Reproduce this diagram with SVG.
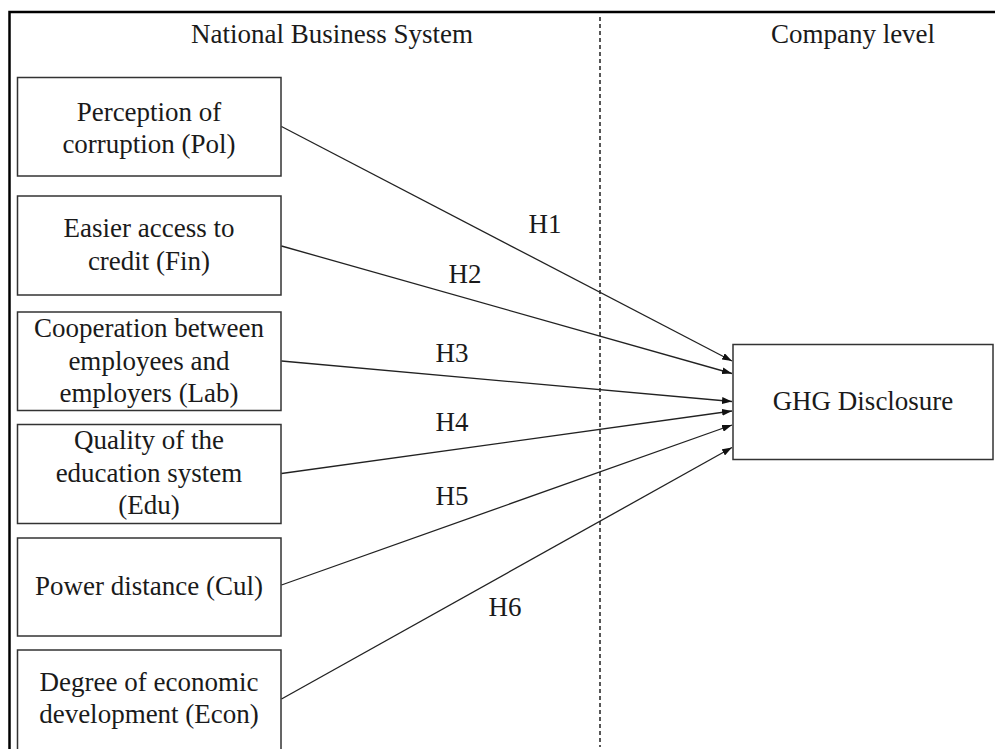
<svg xmlns="http://www.w3.org/2000/svg" width="995" height="749" viewBox="0 0 995 749">
<style>
  text { font-family: "Liberation Serif", "Times New Roman", serif; font-size: 27px; fill: #1a1a1a; text-anchor: middle; }
  .box { fill: #ffffff; stroke: #333333; stroke-width: 1.5; }
  .conn { stroke: #222222; stroke-width: 1.3; fill: none; marker-end: url(#arrow); }
  .frame { fill: none; stroke: #000000; stroke-width: 2.5; }
  .divider { stroke: #111111; stroke-width: 1.4; stroke-dasharray: 4 3; }
</style>
<defs>
  <marker id="arrow" viewBox="0 0 10 7" refX="10" refY="3.5" markerWidth="10" markerHeight="7" markerUnits="userSpaceOnUse" orient="auto">
    <path d="M0,0 L10,3.5 L0,7 z" fill="#111111"/>
  </marker>
</defs>
<rect width="995" height="749" fill="#ffffff"/>
<g id="frame">
  <path class="frame" d="M9.5,760 L9.5,12 L1000,12"/>
  <line class="divider" x1="600" y1="17" x2="600" y2="747"/>
  <text x="332" y="43">National Business System</text>
  <text x="853" y="43">Company level</text>
</g>
<g id="pol">
  <rect class="box" x="17.5" y="77.5" width="263.5" height="98.5"/>
  <text x="149" y="121">Perception of</text>
  <text x="149" y="153">corruption (Pol)</text>
</g>
<g id="fin">
  <rect class="box" x="17.5" y="196" width="263.5" height="99"/>
  <text x="149" y="237">Easier access to</text>
  <text x="149" y="270">credit (Fin)</text>
</g>
<g id="lab">
  <rect class="box" x="17.5" y="312" width="263.5" height="98.5"/>
  <text x="149" y="337">Cooperation between</text>
  <text x="149" y="370">employees and</text>
  <text x="149" y="402">employers (Lab)</text>
</g>
<g id="edu">
  <rect class="box" x="17.5" y="424.5" width="263.5" height="99"/>
  <text x="149" y="449">Quality of the</text>
  <text x="149" y="482">education system</text>
  <text x="149" y="514">(Edu)</text>
</g>
<g id="cul">
  <rect class="box" x="17.5" y="538" width="263.5" height="98"/>
  <text x="149" y="595">Power distance (Cul)</text>
</g>
<g id="econ">
  <rect class="box" x="17.5" y="650" width="263.5" height="110"/>
  <text x="149" y="691">Degree of economic</text>
  <text x="149" y="723">development (Econ)</text>
</g>
<g id="ghg">
  <rect class="box" x="733" y="344.5" width="260" height="115"/>
  <text x="863" y="410">GHG Disclosure</text>
</g>
<g id="connectors">
  <line class="conn" x1="281.5" y1="126.5" x2="732" y2="361"/>
  <line class="conn" x1="281.5" y1="246" x2="732" y2="373.5"/>
  <line class="conn" x1="281.5" y1="361" x2="732" y2="401.5"/>
  <line class="conn" x1="281.5" y1="473.5" x2="732" y2="411"/>
  <line class="conn" x1="281.5" y1="585" x2="732" y2="425"/>
  <line class="conn" x1="281.5" y1="699" x2="732" y2="447.5"/>
  <text x="545" y="233">H1</text>
  <text x="465" y="283">H2</text>
  <text x="452" y="362">H3</text>
  <text x="452" y="431">H4</text>
  <text x="452" y="505">H5</text>
  <text x="505" y="616">H6</text>
</g>
</svg>
